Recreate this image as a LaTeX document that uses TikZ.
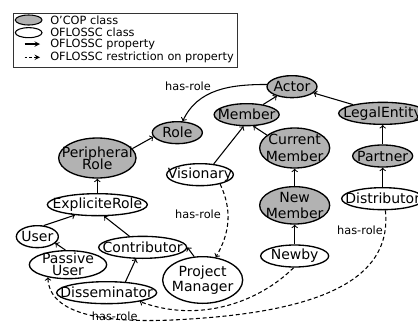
\documentclass[tikz,border=0pt]{standalone}
\usepackage{fontspec}
\setmainfont{DejaVu Sans}
\usetikzlibrary{positioning}
\usetikzlibrary{shapes.geometric, arrows}
\tikzstyle{ocop} = [ellipse, draw=black, fill=gray!60, line width=1pt, inner xsep=-12pt, inner ysep=-6pt, minimum height=16.5pt, align=center, font=\fontsize{10.5}{11.5}\selectfont]
\tikzstyle{oflossc} = [ocop, fill=white]
\tikzstyle{arrow} = [line width=0.8pt,->]
\tikzstyle{restriction} = [arrow, dash pattern=on 3pt off 2pt]
\tikzstyle{rolelabel} = [font=\fontsize{8.5}{10}\selectfont, inner sep=1pt]
\tikzstyle{legendtext} = [font=\fontsize{8.5}{10}\selectfont, inner sep=0pt]
\tikzstyle{legendkey} = [ellipse, draw=black, line width=0.8pt, minimum width=20pt, minimum height=7.5pt, inner sep=0pt]
\begin{document}
\begin{tikzpicture}[node distance=32pt]

\useasboundingbox (0,0) rectangle (313.5pt,-241.5pt);

% Legend

	\node (legendbox) [draw=black!80, line width=0.8pt, minimum width=168pt, minimum height=41pt, anchor=north west, inner sep=0pt] at (9.75pt,-9.5pt) {};

	\node (keyocop) [legendkey, fill=gray!60] at (21.5pt,-15pt) {};
	\node (keyoflossc) [legendkey, fill=white, below of=keyocop, node distance=9.5pt] {};

	\coordinate (propstart) at (18.5pt,-33pt);
	\coordinate (propend) at (30pt,-33pt);
	\coordinate (restrstart) at (18.5pt,-43pt);
	\coordinate (restrend) at (30pt,-43pt);

	\node (txtocop) [legendtext, right of=keyocop, node distance=16pt, anchor=west] {O'COP class};
	\node (txtoflossc) [legendtext, right of=keyoflossc, node distance=16pt, anchor=west] {OFLOSSC class};
	\node (txtprop) [legendtext, anchor=west] at (37.5pt,-33pt) {OFLOSSC property};
	\node (txtrestr) [legendtext, anchor=west] at (37.5pt,-43pt) {OFLOSSC restriction on property};


% O'COP classes

	\node (actor) [ocop, minimum width=37.5pt] at (219pt,-65pt) {Actor};

	\node (member) [ocop, minimum width=48.75pt, below of=actor, xshift=-34pt, yshift=11pt] {Member};

	\node (role) [ocop, minimum width=37.5pt, left of=member, xshift=-20pt, yshift=-13.5pt] {Role};

	\node (legal) [ocop, minimum width=66pt, right of=actor, xshift=36pt, yshift=-20pt] {LegalEntity};

	\node (partner) [ocop, minimum width=45pt, below of=legal] {Partner};

	\node (current) [ocop, minimum width=52.5pt, minimum height=30pt, below of=member, xshift=36pt, yshift=7pt] {Current\\[1pt]Member};

	\node (newmember) [ocop, minimum width=52.5pt, minimum height=28pt, below of=current, yshift=-11pt] {New\\Member};

	\node (peripheral) [ocop, minimum width=58pt, minimum height=30pt, left of=role, xshift=-28pt, yshift=-19pt] {Peripheral\\[-2.5pt]Role};


% OFLOSSC classes

	\node (distributor) [oflossc, minimum width=61.5pt, below of=partner] {Distributor};

	\node (newby) [oflossc, minimum width=51pt, below of=newmember, yshift=-6pt] {Newby};

	\node (visionary) [oflossc, minimum width=50pt, below of=member, xshift=-35pt, yshift=-13pt] {Visionary};

	\node (explicit) [oflossc, minimum width=75pt, below of=peripheral, yshift=-3pt] {ExpliciteRole};

	\node (user) [oflossc, minimum width=31.5pt, below of=explicit, xshift=-45pt, yshift=8pt] {User};

	\node (contributor) [oflossc, minimum width=66pt, below of=explicit, xshift=34pt] {Contributor};

	\node (passive) [oflossc, minimum width=58pt, minimum height=21pt, below of=user, xshift=23pt, yshift=11pt] {Passive\\[-2.5pt]User};

	\node (dissem) [oflossc, minimum width=75pt, below of=contributor, xshift=-27pt, yshift=-2pt] {Disseminator};

	\node (pm) [oflossc, minimum width=60pt, minimum height=35pt, below of=contributor, xshift=45pt, yshift=7.5pt] {Project\\Manager};


% has-role labels

	\node (roleactor) [rolelabel, above of=role, xshift=8pt, yshift=2.5pt] {has-role};
	\node (rolevisionary) [rolelabel, below of=visionary, xshift=-1.5pt, yshift=2pt] {has-role};
	\node (roledistributor) [rolelabel, below of=distributor, xshift=-17pt, yshift=8pt] {has-role};
	\node (rolepassive) [rolelabel, below of=dissem, xshift=6pt, yshift=14pt] {has-role};

	\coordinate (rolebend) at (146pt,-239pt);



% Legend arrows
	\draw [line width=0.8pt, ->, >=stealth] (propstart) -- (propend);
	\draw [line width=0.8pt, ->, >=stealth, dash pattern=on 2pt off 1.5pt] (restrstart) -- (restrend);


% Actor side
	\draw [arrow] (member) -- (actor);
	\draw [arrow] (legal) -- (actor);
	\draw [arrow] (partner) -- (legal);
	\draw [arrow] (distributor) -- (partner);

	\draw [arrow] (current.155) -- (member.300);
	\draw [arrow] (newmember) -- (current);
	\draw [arrow] (newby) -- (newmember);
	\draw [arrow] (visionary.38) -- (member.255);


% Role side
	\draw [arrow] (actor.175) to [out=180, in=65] (role.65);
	\draw [arrow] (peripheral.15) -- (role.190);
	\draw [arrow] (explicit) -- (peripheral);

	\draw [arrow] (user.60) -- (explicit.205);
	\draw [arrow] (contributor.140) -- (explicit.300);
	\draw [arrow] (passive.100) -- (user.340);
	\draw [arrow] (dissem.30) -- (contributor.240);
	\draw [arrow] (pm.110) -- (contributor.east);


% Restrictions on has-role
	\draw [restriction] (visionary.335) to [out=-65, in=60] (pm.60);
	\draw [restriction] (newby.265) .. controls (195pt,-226pt) and (150pt,-243pt) .. (dissem.345);
	\draw [restriction] (distributor.283) .. controls (294pt,-205pt) and (250pt,-232pt) .. (rolebend) .. controls (78pt,-244pt) and (37pt,-236pt) .. (passive.212);


\end{tikzpicture}
\end{document}
